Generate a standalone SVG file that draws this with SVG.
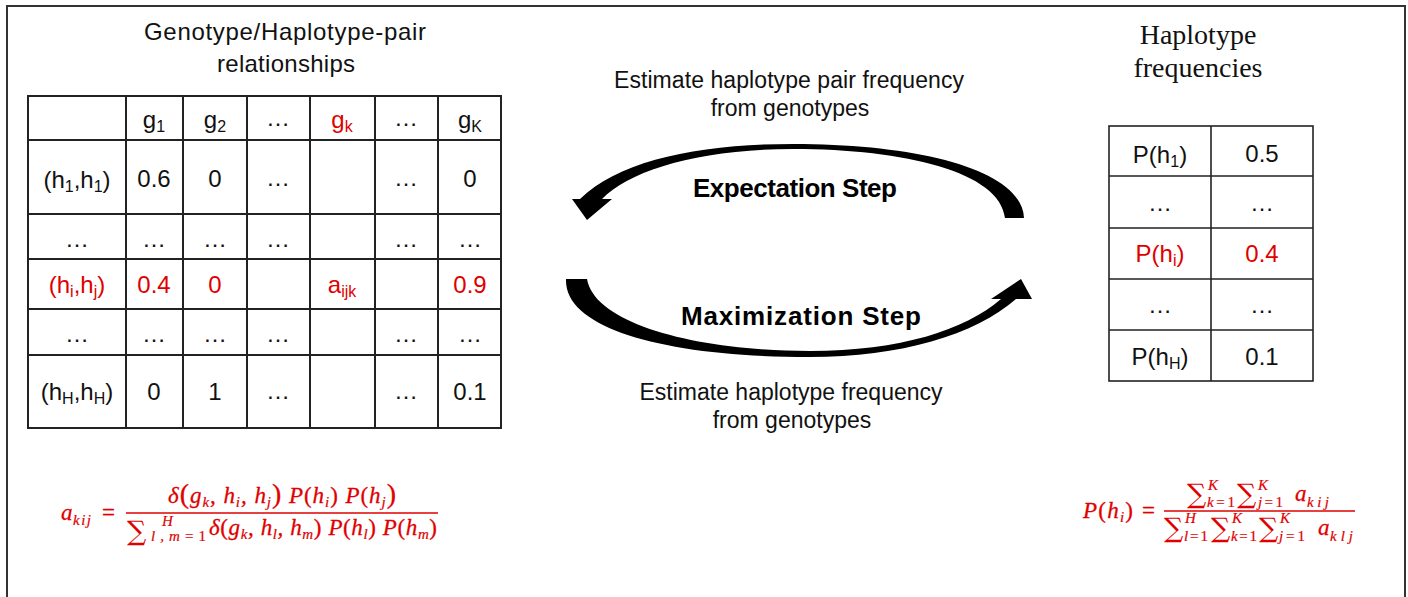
<svg xmlns="http://www.w3.org/2000/svg" width="1408" height="597" viewBox="0 0 1408 597">
<style>
.t{font-family:"Liberation Sans",Arial,sans-serif;font-size:24px;fill:#111;text-anchor:middle}
.m{font-size:23px}
.b{font-weight:bold;font-size:26px;fill:#000}
.r{fill:#e00000}
.s{font-size:16px}
.ttl{font-family:"Liberation Serif","Times New Roman",serif;font-size:28px;fill:#111;text-anchor:middle}
.grid{stroke:#222;stroke-width:2;fill:none}
.grid2{stroke:#222;stroke-width:1.6;fill:none}
.fm{font-family:"Liberation Serif","DejaVu Serif",serif;font-style:italic;font-size:23px;fill:#e00000;stroke:#e00000;stroke-width:0.3}
.fs{font-size:15px;stroke-width:0.2}
.up{font-style:normal}
.bp{font-style:normal;font-size:28px}
.sum{font-family:"DejaVu Serif","DejaVu Sans",serif;font-style:normal;font-size:27px;fill:#e00000}
.bar{stroke:#e00000;stroke-width:1.6}
.arrow{fill:#000}
</style>
<rect x="0" y="0" width="1408" height="597" fill="#fff"/>
<rect id="frame" x="7" y="6" width="1398" height="640" fill="none" stroke="#333" stroke-width="2"/>

<g id="genotype-table">
<text class="t" x="285" y="40" textLength="282">Genotype/Haplotype-pair</text>
<text class="t" x="286" y="72" textLength="138">relationships</text>
<rect class="grid" x="28" y="96" width="473" height="332"/>
<path class="grid" d="M126,96V428M183,96V428M247,96V428M310,96V428M375,96V428M438,96V428M28,140H501M28,214H501M28,259H501M28,309H501M28,355H501"/>
<text class="t" x="154" y="128">g<tspan class="s" dy="4">1</tspan></text>
<text class="t" x="215" y="128">g<tspan class="s" dy="4">2</tspan></text>
<text class="t" x="278" y="126">…</text>
<text class="t r" x="342" y="128">g<tspan class="s" dy="4">k</tspan></text>
<text class="t" x="406" y="126">…</text>
<text class="t" x="470" y="128">g<tspan class="s" dy="4">K</tspan></text>
<text class="t" x="77" y="188">(h<tspan class="s" dy="4">1</tspan><tspan dy="-4">,h</tspan><tspan class="s" dy="4">1</tspan><tspan dy="-4">)</tspan></text>
<text class="t" x="154" y="187">0.6</text>
<text class="t" x="215" y="187">0</text>
<text class="t" x="278" y="186">…</text>
<text class="t" x="406" y="186">…</text>
<text class="t" x="470" y="187">0</text>
<text class="t" x="77" y="247">…</text>
<text class="t" x="154" y="247">…</text>
<text class="t" x="215" y="247">…</text>
<text class="t" x="278" y="247">…</text>
<text class="t" x="406" y="247">…</text>
<text class="t" x="470" y="247">…</text>
<text class="t r" x="77" y="293">(h<tspan class="s" dy="4">i</tspan><tspan dy="-4">,h</tspan><tspan class="s" dy="4">j</tspan><tspan dy="-4">)</tspan></text>
<text class="t r" x="154" y="293">0.4</text>
<text class="t r" x="215" y="293">0</text>
<text class="t r" x="342" y="293">a<tspan class="s" dy="4">ijk</tspan></text>
<text class="t r" x="470" y="293">0.9</text>
<text class="t" x="77" y="342">…</text>
<text class="t" x="154" y="342">…</text>
<text class="t" x="215" y="342">…</text>
<text class="t" x="278" y="342">…</text>
<text class="t" x="406" y="342">…</text>
<text class="t" x="470" y="342">…</text>
<text class="t" x="77" y="400">(h<tspan class="s" dy="4">H</tspan><tspan dy="-4">,h</tspan><tspan class="s" dy="4">H</tspan><tspan dy="-4">)</tspan></text>
<text class="t" x="154" y="400">0</text>
<text class="t" x="215" y="400">1</text>
<text class="t" x="278" y="399">…</text>
<text class="t" x="406" y="399">…</text>
<text class="t" x="470" y="400">0.1</text>
</g>

<g id="haplotype-table">
<text class="ttl" x="1198" y="44">Haplotype</text>
<text class="ttl" x="1198" y="77">frequencies</text>
<rect class="grid2" x="1109" y="126" width="204" height="255"/>
<path class="grid2" d="M1211,126V381M1109,176H1313M1109,228H1313M1109,279H1313M1109,330H1313"/>
<text class="t" x="1160" y="163">P(h<tspan class="s" dy="4">1</tspan><tspan dy="-4">)</tspan></text>
<text class="t" x="1262" y="162">0.5</text>
<text class="t" x="1160" y="211">…</text>
<text class="t" x="1262" y="211">…</text>
<text class="t r" x="1160" y="262">P(h<tspan class="s" dy="4">i</tspan><tspan dy="-4">)</tspan></text>
<text class="t r" x="1262" y="262">0.4</text>
<text class="t" x="1160" y="313">…</text>
<text class="t" x="1262" y="313">…</text>
<text class="t" x="1160" y="365">P(h<tspan class="s" dy="4">H</tspan><tspan dy="-4">)</tspan></text>
<text class="t" x="1262" y="365">0.1</text>
</g>

<g id="connectors">
<path id="expectation-arrow" class="arrow" d="M1024,218 C1022,170 920,144 793,144 C700,144 620,160 580,199 L572,199 L587,220 L612,199 L602,199 C630,170 700,149 793,149 C905,149 1000,172 1005,218 Z"/>
<path id="maximization-arrow" class="arrow" d="M566,279 C564,330 670,357 810,357 C900,357 975,335 1016,299 L1032,299 L1021,279 L991,299 L1001,299 C965,330 900,351 810,351 C700,351 595,325 587,279 Z"/>
</g>

<g id="step-labels">
<text class="t m" x="789" y="88" textLength="350">Estimate haplotype pair frequency</text>
<text class="t m" x="790" y="116">from genotypes</text>
<text class="t b" x="795" y="197" textLength="204">Expectation Step</text>
<text class="t b" x="801" y="325" textLength="240">Maximization Step</text>
<text class="t m" x="791" y="400" textLength="303">Estimate haplotype frequency</text>
<text class="t m" x="792" y="428">from genotypes</text>
</g>

<g id="formula-a">
<text class="fm" x="61" y="520">a</text>
<text class="fm fs" x="73" y="525" textLength="18">kij</text>
<text class="fm up" x="102" y="520" font-size="25">=</text>
<line class="bar" x1="126" y1="513" x2="438" y2="513"/>
<text class="fm" x="168" y="503" textLength="228">δ<tspan class="bp">(</tspan>g<tspan class="fs" dy="4">k</tspan><tspan dy="-4">, h</tspan><tspan class="fs" dy="4">i</tspan><tspan dy="-4">, h</tspan><tspan class="fs" dy="4">j</tspan><tspan dy="-4" class="bp">)</tspan> P<tspan class="up">(</tspan>h<tspan class="fs" dy="4">i</tspan><tspan dy="-4" class="up">)</tspan> P<tspan class="up">(</tspan>h<tspan class="fs" dy="4">j</tspan><tspan dy="-4" class="bp">)</tspan></text>
<text class="sum" x="127" y="540">∑</text>
<text class="fm fs" x="162" y="526">H</text>
<text class="fm fs" x="151" y="541" textLength="55">l,m<tspan class="up">=1</tspan></text>
<text class="fm" x="209" y="535" textLength="228">δ<tspan class="up">(</tspan>g<tspan class="fs" dy="4">k</tspan><tspan dy="-4">, h</tspan><tspan class="fs" dy="4">l</tspan><tspan dy="-4">, h</tspan><tspan class="fs" dy="4">m</tspan><tspan dy="-4" class="up">)</tspan> P<tspan class="up">(</tspan>h<tspan class="fs" dy="4">l</tspan><tspan dy="-4" class="up">)</tspan> P<tspan class="up">(</tspan>h<tspan class="fs" dy="4">m</tspan><tspan dy="-4" class="up">)</tspan></text>
</g>

<g id="formula-p">
<text class="fm" x="1083" y="518" textLength="50">P<tspan class="up">(</tspan>h<tspan class="fs" dy="4">i</tspan><tspan dy="-4" class="up">)</tspan></text>
<text class="fm up" x="1142" y="518" font-size="25">=</text>
<line class="bar" x1="1164" y1="511" x2="1355" y2="511"/>
<text class="sum" x="1187" y="503">∑</text>
<text class="fm fs" x="1208" y="490">K</text>
<text class="fm fs" x="1207" y="507" textLength="28">k<tspan class="up">=1</tspan></text>
<text class="sum" x="1237" y="503">∑</text>
<text class="fm fs" x="1258" y="490">K</text>
<text class="fm fs" x="1258" y="507" textLength="25">j<tspan class="up">=1</tspan></text>
<text class="fm" x="1295" y="501">a</text>
<text class="fm fs" x="1307" y="507" textLength="22">kij</text>
<text class="sum" x="1164" y="537">∑</text>
<text class="fm fs" x="1185" y="523">H</text>
<text class="fm fs" x="1184" y="541" textLength="24">l<tspan class="up">=1</tspan></text>
<text class="sum" x="1211" y="537">∑</text>
<text class="fm fs" x="1232" y="523">K</text>
<text class="fm fs" x="1231" y="541" textLength="26">k<tspan class="up">=1</tspan></text>
<text class="sum" x="1259" y="537">∑</text>
<text class="fm fs" x="1280" y="523">K</text>
<text class="fm fs" x="1279" y="541" textLength="26">j<tspan class="up">=1</tspan></text>
<text class="fm" x="1318" y="535">a</text>
<text class="fm fs" x="1330" y="541" textLength="23">klj</text>
</g>
</svg>
